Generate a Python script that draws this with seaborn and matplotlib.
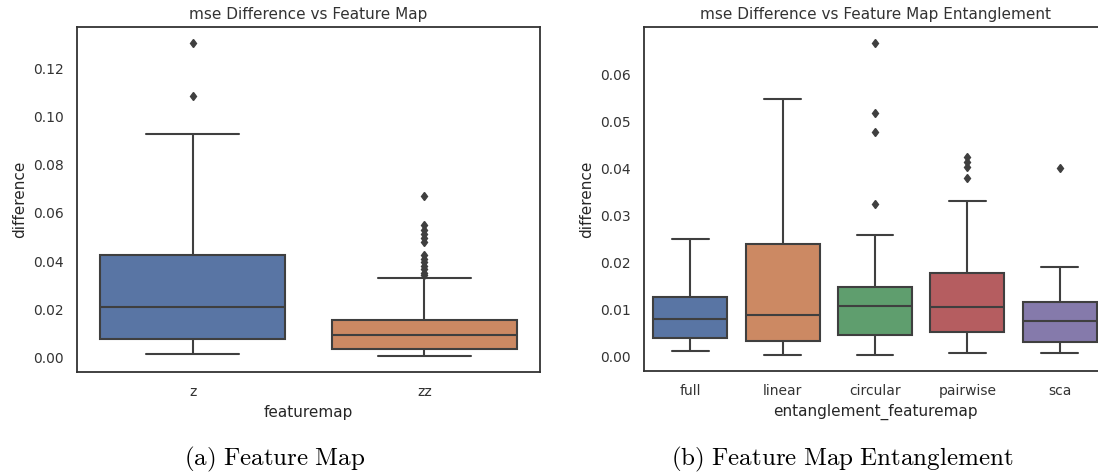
import matplotlib
matplotlib.use("Agg")
import matplotlib.pyplot as plt
import seaborn as sns
import pandas as pd

# mse differences grouped by feature map
feature_maps = ["z", "zz"]
diff_z = [0.0015, 0.0038, 0.0055, 0.0078, 0.0112, 0.0160, 0.0209, 0.0268, 0.0335,
          0.0425, 0.0929, 0.1085, 0.1308]
diff_zz = [0.0004, 0.0007, 0.0009, 0.0011, 0.0013, 0.0015, 0.0018, 0.0020, 0.0022,
           0.0025, 0.0027, 0.0030, 0.0032, 0.0034, 0.0036,
           0.0040, 0.0043, 0.0047, 0.0050, 0.0054, 0.0058, 0.0062, 0.0066, 0.0070,
           0.0074, 0.0079, 0.0083, 0.0087, 0.0091,
           0.0095, 0.0099, 0.0103, 0.0107, 0.0112, 0.0116, 0.0121, 0.0126, 0.0131,
           0.0136, 0.0141, 0.0146, 0.0150, 0.0155,
           0.0328, 0.0342, 0.0352, 0.0365, 0.0380, 0.0395, 0.0410, 0.0427,
           0.0478, 0.0495, 0.0512, 0.0530, 0.0548, 0.0669]

# mse differences grouped by feature map entanglement
entanglements = ["full", "linear", "circular", "pairwise", "sca"]
diff_full = [0.00117, 0.0025, 0.00388, 0.0060, 0.00793, 0.0102, 0.01275, 0.0180, 0.02505]
diff_linear = [0.00026, 0.0015, 0.00324, 0.0060, 0.00885, 0.0160, 0.02405, 0.0380, 0.0549]
diff_circular = [0.00032, 0.0012, 0.0020, 0.0030, 0.0038, 0.00458, 0.0055, 0.0066,
                 0.0078, 0.0090, 0.01083, 0.0118, 0.0126, 0.0134, 0.0141, 0.01488,
                 0.0259, 0.0325, 0.0477, 0.0519, 0.0668]
diff_pairwise = [0.00068, 0.0018, 0.0028, 0.0037, 0.0045, 0.00516, 0.0062, 0.0074,
                 0.0085, 0.0096, 0.01062, 0.0120, 0.0135, 0.0150, 0.0164, 0.01774,
                 0.0332, 0.0380, 0.0403, 0.0413, 0.0424]
diff_sca = [0.00068, 0.0020, 0.00316, 0.0052, 0.00757, 0.0095, 0.01156, 0.01915, 0.0401]

# y tick labels
fm_ticks = [0.00, 0.02, 0.04, 0.06, 0.08, 0.10, 0.12]
ent_ticks = [0.00, 0.01, 0.02, 0.03, 0.04, 0.05, 0.06]

df_fm = pd.DataFrame({
    "featuremap": ["z"] * len(diff_z) + ["zz"] * len(diff_zz),
    "difference": diff_z + diff_zz,
})
ent_groups = [diff_full, diff_linear, diff_circular, diff_pairwise, diff_sca]
df_ent = pd.DataFrame({
    "entanglement_featuremap": sum([[n] * len(g) for n, g in zip(entanglements, ent_groups)], []),
    "difference": sum(ent_groups, []),
})

sns.set_theme(style="white")
plt.rcParams["mathtext.fontset"] = "cm"
plt.rcParams["axes.edgecolor"] = "#333333"
plt.rcParams["axes.linewidth"] = 1.3
plt.rcParams["text.color"] = "#333333"

W, H = 1098, 476
fig = plt.figure(figsize=(W / 100, H / 100), dpi=100)

def px_axes(x0, y0, x1, y1):
    return fig.add_axes([x0 / W, 1 - y1 / H, (x1 - x0) / W, (y1 - y0) / H])

ax1 = px_axes(77, 27, 540, 372)
ax2 = px_axes(644, 27, 1106, 371)

line_col = "#3f3f3f"
box_kws = dict(linecolor=line_col, linewidth=1.5, fliersize=4.5,
               flierprops=dict(marker="d", markerfacecolor=line_col,
                               markeredgecolor=line_col))

sns.boxplot(data=df_fm, x="featuremap", y="difference", hue="featuremap",
            order=feature_maps, palette="deep", legend=False, ax=ax1, **box_kws)
sns.boxplot(data=df_ent, x="entanglement_featuremap", y="difference",
            hue="entanglement_featuremap", order=entanglements, palette="deep",
            legend=False, ax=ax2, **box_kws)

ax1.set_yticks(fm_ticks)
ax2.set_yticks(ent_ticks)
ax1.set_title("mse Difference vs Feature Map", fontsize=11)
ax2.set_title("mse Difference vs Feature Map Entanglement", fontsize=11)
for ax in (ax1, ax2):
    ax.tick_params(labelsize=10, colors="#333333")
    ax.xaxis.label.set_size(11)
    ax.yaxis.label.set_size(11)
    for s in ax.spines.values():
        s.set_visible(True)

fig.text(275 / W, 1 - 465 / H, r"$\mathrm{(a)\ Feature\ Map}$", fontsize=18,
         ha="center", va="baseline", color="black")
fig.text(842 / W, 1 - 465 / H, r"$\mathrm{(b)\ Feature\ Map\ Entanglement}$", fontsize=18,
         ha="center", va="baseline", color="black")

fig.savefig("out.png", dpi=100)
